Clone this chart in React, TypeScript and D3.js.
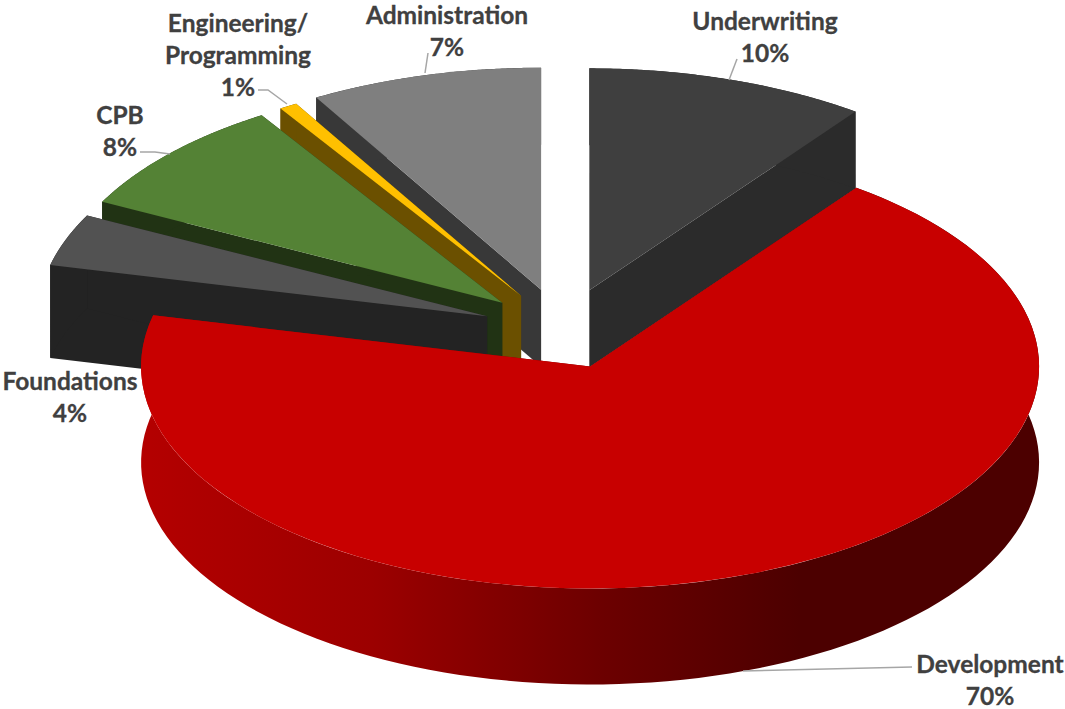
import React from "react";
import * as d3 from "d3";

// chart data, starting at 12 o'clock and going clockwise
const categories = ["Underwriting", "Development", "Foundations", "CPB", "Engineering/Programming", "Administration"];
const percentLabels = ["10%", "70%", "4%", "8%", "1%", "7%"];
const shares = [10.1, 68.6, 3.8, 8.5, 0.65, 8.35];

const width = 1065;
const height = 709;
const centerX = 563;
const centerY = 330;
const radiusX = 449;
const radiusY = 222;

// per slice look, same order as categories
const topColors = ["#3f3f3f", "#c80000", "#525252", "#548235", "#ffc000", "#7f7f7f"];
const wallColors = ["#2b2b2b", "url(#devWall)", "#232323", "#213314", "#6b5000", "#383838"];
const explode = [0.188, 0.175, 0.18, 0.183, 0.18, 0.188];
const depths = [77, 96, 93, 77, 77, 77];
// back to front
const paintOrder = [0, 5, 4, 3, 2, 1];

type Label = { lines: string[]; x: number; y: number; leader?: [number, number][] };
const labelLayout: Label[] = [
  { lines: ["Underwriting"], x: 765, y: 21, leader: [[729, 80], [737, 59]] },
  { lines: ["Development"], x: 990, y: 664, leader: [[743, 671], [912, 667]] },
  { lines: ["Foundations"], x: 70, y: 381 },
  { lines: ["CPB"], x: 120, y: 115, leader: [[140, 152], [155, 152], [170, 154]] },
  { lines: ["Engineering/", "Programming"], x: 238, y: 23, leader: [[258, 90], [268, 90], [287, 104]] },
  { lines: ["Administration"], x: 447, y: 15, leader: [[425, 73], [428, 53]] },
];

const pie = d3.pie<number>().sort(null).value((d) => d);
const slices = pie(shares);

const arc = d3.arc<d3.PieArcDatum<number>>().innerRadius(0).outerRadius(radiusX);
const line = d3.line();

const App = () => {
  return (
    <svg
      width={width}
      height={height}
      viewBox={`0 0 ${width} ${height}`}
      style={{ position: "absolute", left: 0, top: 0, display: "block", background: "#fff" }}
    >
      <defs>
        <linearGradient id="devWall" gradientUnits="userSpaceOnUse" x1={141} y1={0} x2={800} y2={0}>
          <stop offset="0" stopColor="#b40000" />
          <stop offset="0.35" stopColor="#9c0000" />
          <stop offset="0.7" stopColor="#6c0000" />
          <stop offset="1" stopColor="#4c0000" />
        </linearGradient>
      </defs>

      {paintOrder.map((i) => {
        const s = slices[i];
        const mid = (s.startAngle + s.endAngle) / 2;
        const ax = centerX + Math.sin(mid) * radiusX * explode[i];
        const ay = centerY - Math.cos(mid) * radiusY * explode[i];
        const d = depths[i];
        const rim = (a: number, drop = 0): [number, number] => [
          ax + Math.sin(a) * radiusX,
          ay - Math.cos(a) * radiusY + drop,
        ];
        const angles = d3.range(0, 121).map((k) => s.startAngle + ((s.endAngle - s.startAngle) * k) / 120);
        const band = [...angles.map((a) => rim(a)), ...angles.slice().reverse().map((a) => rim(a, d))];
        const cutFace = (a: number): [number, number][] => [[ax, ay], rim(a), rim(a, d), [ax, ay + d]];
        return (
          <g key={categories[i]}>
            <path d={line(cutFace(s.startAngle)) + "Z"} fill={wallColors[i]} />
            <path d={line(cutFace(s.endAngle)) + "Z"} fill={wallColors[i]} />
            <path d={line(band) + "Z"} fill={wallColors[i]} />
            <path
              d={arc(s) as string}
              fill={topColors[i]}
              transform={`translate(${ax},${ay}) scale(1,${radiusY / radiusX})`}
            />
          </g>
        );
      })}

      {labelLayout.map((l, i) => (
        <g
          key={categories[i]}
          fontFamily="Lato"
          fontWeight={700}
          fontSize={24.5}
          fill="#404040"
          stroke="#404040"
          strokeWidth={0.3}
          textAnchor="middle"
        >
          {l.leader && <path d={line(l.leader) as string} fill="none" stroke="#a6a6a6" strokeWidth={1.5} />}
          {[...l.lines, percentLabels[i]].map((t, k) => (
            <text key={t} x={l.x} y={l.y + k * 32} dy="0.35em">
              {t}
            </text>
          ))}
        </g>
      ))}
    </svg>
  );
};

export default App;
